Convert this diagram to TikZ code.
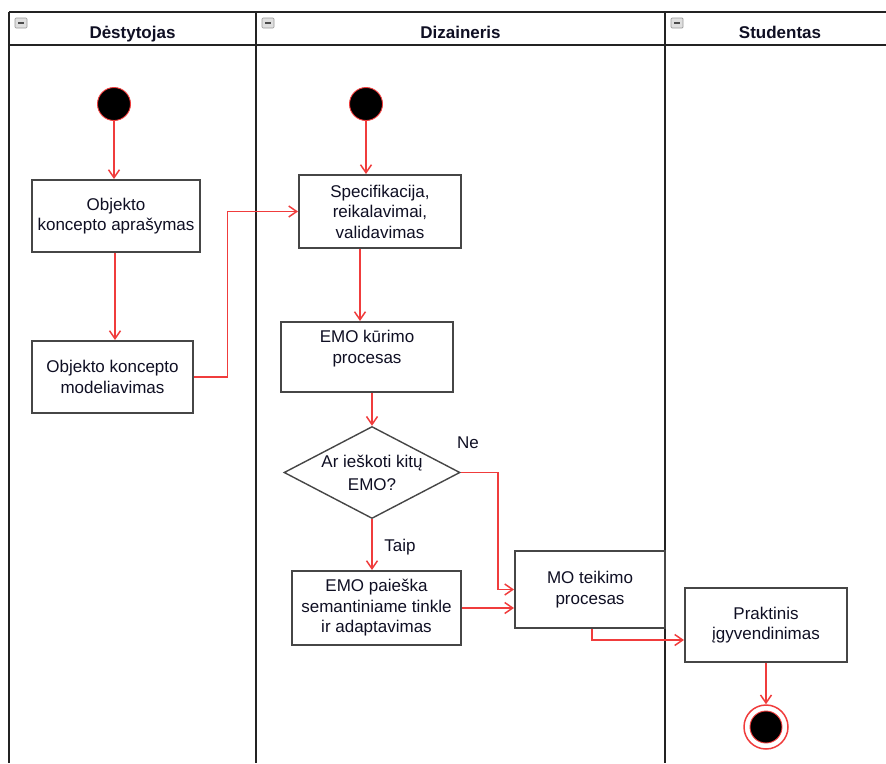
\documentclass[tikz,border=0pt]{standalone}
\usepackage{fontspec}
\setmainfont{Liberation Sans}
\usetikzlibrary{arrows.meta,shapes.geometric,calc}
\definecolor{flow}{RGB}{240,60,60}
\definecolor{edge}{RGB}{70,70,70}
\definecolor{lane}{RGB}{35,35,35}
\definecolor{ink}{RGB}{15,15,35}
\begin{document}
\begin{tikzpicture}[x=1pt,y=-1pt,
  lanel/.style={draw=lane,line width=2pt},
  head/.style={font=\bfseries\fontsize{17}{20}\selectfont,text=ink,anchor=base,inner sep=0pt},
  collapse/.style={rectangle,rounded corners=1pt,draw=gray!80,fill=gray!25,line width=0.7pt,minimum width=12pt,minimum height=10pt,inner sep=0pt,
    path picture={\draw[gray!60!black,line width=1.4pt] ([xshift=3pt]path picture bounding box.west) -- ([xshift=-3pt]path picture bounding box.east);}},
  actbox/.style={rectangle,draw=edge,line width=2pt,fill=white,align=center,text=ink,font=\fontsize{17}{20.5}\selectfont,inner sep=1pt},
  decision/.style={diamond,draw=edge,line width=1.4pt,fill=white,aspect=1.91,minimum width=176pt,minimum height=92pt,inner sep=0pt,align=center,text=ink,font=\fontsize{17}{23}\selectfont},
  startnode/.style={circle,fill=black,draw=flow,line width=0.9pt,minimum size=33pt,inner sep=0pt},
  endnode/.style={circle,draw=flow,line width=1.5pt,fill=white,minimum size=44pt,inner sep=0pt,
    path picture={\filldraw[fill=black,draw=flow,line width=0.9pt] (path picture bounding box.center) circle (16pt);}},
  guard/.style={text=ink,font=\fontsize{17}{20}\selectfont},
  flowarr/.style={draw=flow,line width=1.7pt,-{Straight Barb[length=8pt,width=11pt,line width=1.5pt]}}
]
\useasboundingbox (0,0) rectangle (886,763);

% swimlanes
\draw[lanel] (9,12) -- (886,12);
\draw[lanel] (9,45) -- (886,45);
\draw[lanel] (9,12) -- (9,763);
\draw[lanel] (256,12) -- (256,763);
\draw[lanel] (665,12) -- (665,763);

\node[collapse] (c1) at (21,23) {};
\node[collapse] (c2) at (268,23) {};
\node[collapse] (c3) at (677,23) {};
\node[head] (h1) at (132.5,38) {Dėstytojas};
\node[head] (h2) at (460.5,38) {Dizaineris};
\node[head] (h3) at (780,38) {Studentas};

% nodes
\node[startnode] (s1) at (114,104) {};
\node[startnode] (s2) at (366,104) {};
\node[actbox,minimum width=168pt,minimum height=72pt] (b1) at (116,216) {Objekto\\koncepto aprašymas};
\node[actbox,minimum width=161pt,minimum height=72pt] (b2) at (112.5,377) {Objekto koncepto\\modeliavimas};
\node[actbox,minimum width=162pt,minimum height=73pt] (spec) at (380,211.5) {Specifikacija,\\reikalavimai,\\validavimas};
\node[actbox,minimum width=172pt,minimum height=70pt] (emok) at (367,357) {EMO kūrimo\\procesas\\\mbox{}};
\node[decision] (dia) at (372,472.5) {Ar ieškoti kitų\\EMO?};
\node[actbox,minimum width=169pt,minimum height=74pt] (pai) at (376.5,608) {EMO paieška\\semantiniame tinkle\\ir adaptavimas};
\node[actbox,minimum width=150pt,minimum height=77pt] (mo) at (590,589.5) {MO teikimo\\procesas};
\node[actbox,minimum width=162pt,minimum height=74pt] (prak) at (766,625) {Praktinis\\įgyvendinimas};
\node[endnode] (fin) at (766,727) {};

\node[guard] (ne) at (468,443) {Ne};
\node[guard] (taip) at (400,547) {Taip};

% connectors
\draw[flowarr] (s1) -- (s1 |- b1.north);
\draw[flowarr] ([xshift=-1pt]b1.south) -- ([xshift=-1pt]b1.south |- b2.north);
\draw[flowarr] (b2.east) -- ++(33.5,0) |- (spec.west);
\draw[flowarr] (s2) -- (s2 |- spec.north);
\draw[flowarr] ([xshift=-20pt]spec.south) -- ([xshift=-7pt]emok.north);
\draw[flowarr] (dia.north |- emok.south) -- (dia.north);
\draw[flowarr] (dia.south) -- (dia.south |- pai.north);
\draw[flowarr] (dia.east) -- ++(37,0) |- (mo.west);
\draw[flowarr] (pai.east) -- (pai.east -| mo.west);
\draw[flowarr] ([xshift=2pt]mo.south) |- ([yshift=-15pt]prak.west);
\draw[flowarr] (prak.south) -- (fin.north);
\end{tikzpicture}
\end{document}
